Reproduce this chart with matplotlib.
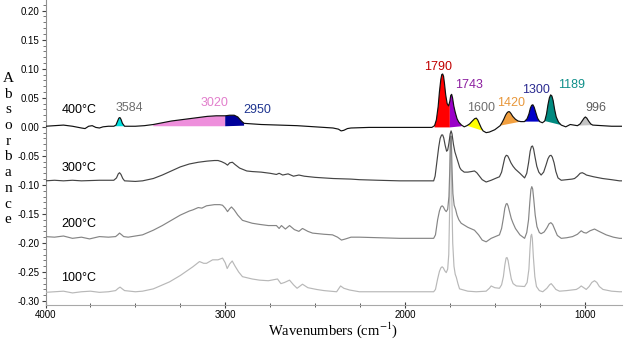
import numpy as np
import matplotlib
matplotlib.use('Agg')
import matplotlib.pyplot as plt
from matplotlib.ticker import MultipleLocator, FixedLocator

plt.rcParams['axes.unicode_minus'] = False
plt.rcParams['mathtext.fontset'] = 'stix'

# ---------------- data: (wavenumber, absorbance) ----------------
spec_400 = [
    (4000, 0.001), (3950, 0.002), (3900, 0.003), (3850, 0.001), (3800, -0.002), (3780, -0.003),
    (3760, 0.001), (3740, 0.002), (3720, -0.001), (3700, -0.002), (3680, 0.000), (3650, 0.001),
    (3620, 0.001), (3608, 0.003), (3600, 0.009), (3592, 0.015), (3586, 0.016), (3580, 0.013),
    (3572, 0.006), (3560, 0.001), (3500, 0.001), (3450, 0.002), (3400, 0.004), (3350, 0.007),
    (3300, 0.010), (3250, 0.012), (3200, 0.014), (3150, 0.016), (3100, 0.018), (3050, 0.019),
    (3000, 0.019), (2975, 0.020), (2950, 0.020), (2930, 0.017), (2910, 0.010), (2895, 0.006),
    (2850, 0.005), (2800, 0.004), (2700, 0.003), (2600, 0.002), (2500, 0.000), (2400, -0.002),
    (2370, -0.004), (2355, -0.007), (2340, -0.006), (2320, -0.003), (2300, -0.002), (2200, -0.001),
    (2100, -0.001), (2000, -0.001), (1900, -0.001), (1850, -0.001), (1835, 0.002), (1825, 0.012),
    (1815, 0.035), (1808, 0.060), (1800, 0.082), (1795, 0.090), (1790, 0.091), (1785, 0.087),
    (1780, 0.075), (1773, 0.055), (1765, 0.040), (1757, 0.036), (1750, 0.044), (1745, 0.054),
    (1740, 0.056), (1735, 0.050), (1728, 0.036), (1720, 0.025), (1710, 0.014), (1700, 0.008),
    (1685, 0.003), (1670, 0.000), (1655, 0.002), (1640, 0.005), (1625, 0.010), (1612, 0.014),
    (1603, 0.015), (1595, 0.012), (1585, 0.005), (1575, -0.002), (1565, -0.007), (1548, -0.010),
    (1530, -0.009), (1500, -0.005), (1470, 0.002), (1460, 0.007), (1450, 0.013), (1440, 0.020),
    (1432, 0.024), (1425, 0.026), (1418, 0.026), (1410, 0.023), (1400, 0.018), (1385, 0.013),
    (1370, 0.010), (1355, 0.009), (1335, 0.009), (1320, 0.014), (1310, 0.022), (1302, 0.032),
    (1295, 0.037), (1288, 0.038), (1281, 0.034), (1272, 0.025), (1262, 0.015), (1250, 0.009),
    (1235, 0.007), (1222, 0.010), (1212, 0.022), (1204, 0.038), (1196, 0.050), (1189, 0.055),
    (1182, 0.053), (1175, 0.045), (1167, 0.030), (1158, 0.017), (1145, 0.008), (1130, 0.003),
    (1105, 0.000), (1080, 0.004), (1060, 0.003), (1040, 0.002), (1025, 0.005), (1012, 0.011),
    (1003, 0.015), (996, 0.017), (988, 0.015), (978, 0.010), (966, 0.005), (955, 0.003),
    (900, 0.002), (850, 0.001), (792, 0.001)]

spec_300 = [
    (4000, -0.093), (3950, -0.092), (3900, -0.093), (3850, -0.092), (3800, -0.093), (3700, -0.092),
    (3620, -0.092), (3605, -0.088), (3595, -0.081), (3588, -0.079), (3580, -0.082), (3570, -0.089),
    (3560, -0.093), (3500, -0.094), (3460, -0.093), (3400, -0.089), (3350, -0.083), (3300, -0.076),
    (3250, -0.069), (3200, -0.064), (3150, -0.061), (3100, -0.059), (3060, -0.058), (3040, -0.058),
    (3020, -0.060), (3000, -0.063), (2987, -0.066), (2975, -0.062), (2960, -0.061), (2945, -0.065),
    (2920, -0.071), (2880, -0.076), (2850, -0.077), (2800, -0.078), (2750, -0.080), (2715, -0.082),
    (2700, -0.080), (2680, -0.083), (2650, -0.081), (2620, -0.085), (2590, -0.083), (2560, -0.085),
    (2500, -0.087), (2400, -0.089), (2300, -0.090), (2253, -0.091), (2150, -0.092), (2030, -0.093),
    (1900, -0.093), (1840, -0.093), (1832, -0.085), (1822, -0.060), (1812, -0.035), (1804, -0.020),
    (1796, -0.014), (1790, -0.014), (1784, -0.019), (1776, -0.032), (1768, -0.042), (1762, -0.040),
    (1755, -0.028), (1748, -0.012), (1743, -0.007), (1738, -0.012), (1730, -0.030), (1722, -0.043),
    (1714, -0.051), (1705, -0.060), (1695, -0.070), (1687, -0.074), (1670, -0.078), (1650, -0.078),
    (1630, -0.077), (1613, -0.076), (1600, -0.079), (1590, -0.083), (1570, -0.091), (1548, -0.095),
    (1520, -0.092), (1490, -0.088), (1474, -0.086), (1462, -0.078), (1452, -0.064), (1444, -0.053),
    (1436, -0.049), (1428, -0.050), (1420, -0.055), (1410, -0.062), (1398, -0.068), (1385, -0.073),
    (1360, -0.080), (1334, -0.088), (1322, -0.080), (1312, -0.062), (1303, -0.042), (1296, -0.034),
    (1290, -0.033), (1284, -0.038), (1276, -0.052), (1266, -0.068), (1255, -0.078), (1242, -0.083),
    (1228, -0.078), (1215, -0.066), (1204, -0.055), (1195, -0.050), (1187, -0.049), (1180, -0.052),
    (1170, -0.062), (1160, -0.077), (1148, -0.088), (1130, -0.092), (1100, -0.091), (1070, -0.090),
    (1056, -0.089), (1040, -0.085), (1025, -0.080), (1013, -0.079), (1000, -0.081), (990, -0.083),
    (950, -0.086), (900, -0.089), (850, -0.091), (806, -0.093), (792, -0.093)]

spec_200 = [
    (4000, -0.189), (3950, -0.190), (3900, -0.188), (3850, -0.192), (3800, -0.190), (3755, -0.193),
    (3700, -0.189), (3650, -0.190), (3610, -0.189), (3598, -0.186), (3588, -0.183), (3576, -0.186),
    (3565, -0.189), (3540, -0.190), (3500, -0.188), (3460, -0.186), (3400, -0.178), (3350, -0.170),
    (3300, -0.161), (3250, -0.152), (3200, -0.145), (3180, -0.143), (3150, -0.139), (3130, -0.140),
    (3104, -0.136), (3060, -0.134), (3030, -0.134), (3015, -0.135), (3000, -0.140), (2987, -0.146),
    (2975, -0.141), (2965, -0.138), (2950, -0.143), (2930, -0.152), (2904, -0.161), (2850, -0.166),
    (2809, -0.168), (2760, -0.170), (2715, -0.170), (2700, -0.175), (2687, -0.170), (2665, -0.176),
    (2642, -0.170), (2615, -0.177), (2590, -0.180), (2570, -0.175), (2540, -0.180), (2514, -0.183),
    (2450, -0.185), (2403, -0.186), (2375, -0.190), (2353, -0.195), (2330, -0.193), (2300, -0.190),
    (2253, -0.190), (2150, -0.191), (2030, -0.192), (1900, -0.192), (1840, -0.192), (1830, -0.186),
    (1818, -0.160), (1808, -0.145), (1800, -0.138), (1793, -0.136), (1786, -0.138), (1778, -0.143),
    (1770, -0.146), (1762, -0.142), (1755, -0.120), (1750, -0.070), (1746, -0.016), (1742, -0.016),
    (1738, -0.070), (1733, -0.115), (1726, -0.135), (1718, -0.142), (1710, -0.152), (1700, -0.160),
    (1687, -0.166), (1650, -0.173), (1613, -0.178), (1590, -0.186), (1570, -0.195), (1548, -0.198),
    (1520, -0.192), (1490, -0.188), (1474, -0.186), (1462, -0.175), (1452, -0.157), (1444, -0.140),
    (1437, -0.133), (1432, -0.132), (1426, -0.136), (1418, -0.146), (1408, -0.158), (1398, -0.166),
    (1385, -0.175), (1360, -0.186), (1334, -0.192), (1322, -0.182), (1312, -0.160), (1305, -0.130),
    (1299, -0.108), (1294, -0.103), (1289, -0.107), (1283, -0.125), (1275, -0.152), (1265, -0.172),
    (1252, -0.182), (1242, -0.184), (1225, -0.181), (1210, -0.174), (1198, -0.167), (1188, -0.165),
    (1178, -0.168), (1166, -0.177), (1152, -0.187), (1130, -0.192), (1100, -0.191), (1067, -0.189),
    (1040, -0.185), (1019, -0.179), (1005, -0.182), (991, -0.183), (970, -0.179), (945, -0.176),
    (920, -0.180), (880, -0.186), (840, -0.190), (806, -0.192), (792, -0.192)]

spec_100 = [
    (4000, -0.285), (3950, -0.284), (3900, -0.283), (3850, -0.286), (3800, -0.284), (3750, -0.283),
    (3700, -0.285), (3650, -0.284), (3610, -0.282), (3595, -0.278), (3585, -0.276), (3573, -0.279),
    (3560, -0.282), (3500, -0.284), (3460, -0.283), (3400, -0.279), (3310, -0.267), (3250, -0.256),
    (3180, -0.241), (3143, -0.232), (3120, -0.235), (3104, -0.235), (3070, -0.229), (3040, -0.229),
    (3015, -0.226), (3000, -0.234), (2989, -0.244), (2975, -0.236), (2961, -0.231), (2945, -0.240),
    (2925, -0.250), (2904, -0.258), (2850, -0.262), (2809, -0.264), (2760, -0.265), (2709, -0.262),
    (2690, -0.270), (2670, -0.268), (2642, -0.264), (2620, -0.272), (2600, -0.278), (2570, -0.271),
    (2540, -0.277), (2492, -0.280), (2450, -0.282), (2380, -0.284), (2358, -0.274), (2340, -0.278),
    (2308, -0.281), (2253, -0.284), (2150, -0.284), (2030, -0.284), (1900, -0.284), (1840, -0.284),
    (1830, -0.280), (1818, -0.262), (1808, -0.249), (1800, -0.243), (1793, -0.241), (1786, -0.243),
    (1778, -0.248), (1770, -0.251), (1762, -0.245), (1756, -0.220), (1751, -0.140), (1747, -0.022),
    (1743, -0.022), (1739, -0.120), (1734, -0.200), (1727, -0.240), (1720, -0.254), (1714, -0.259),
    (1705, -0.270), (1696, -0.279), (1650, -0.283), (1603, -0.284), (1548, -0.283), (1530, -0.278),
    (1520, -0.274), (1500, -0.277), (1474, -0.278), (1462, -0.272), (1452, -0.258), (1444, -0.238),
    (1437, -0.226), (1432, -0.225), (1426, -0.230), (1418, -0.245), (1408, -0.262), (1398, -0.270),
    (1380, -0.274), (1334, -0.275), (1320, -0.268), (1310, -0.245), (1304, -0.210), (1299, -0.188),
    (1295, -0.185), (1291, -0.192), (1285, -0.225), (1277, -0.258), (1268, -0.275), (1252, -0.282),
    (1233, -0.284), (1210, -0.278), (1195, -0.272), (1186, -0.270), (1175, -0.274), (1160, -0.280),
    (1140, -0.283), (1100, -0.282), (1046, -0.280), (1030, -0.277), (1019, -0.274), (1005, -0.277),
    (991, -0.280), (975, -0.275), (960, -0.268), (945, -0.265), (932, -0.268), (918, -0.275),
    (898, -0.280), (850, -0.283), (806, -0.284), (792, -0.284)]

series_labels = ['400°C', '300°C', '200°C', '100°C']

# assigned peaks on the 400 °C spectrum
peak_labels = ['3584', '3020', '2950', '1790', '1743', '1600', '1420', '1300', '1189', '996']
peak_start = [3620, 3400, 3000, 1835, 1750, 1655, 1470, 1335, 1222, 1040]
peak_end = [3560, 3000, 2895, 1750, 1685, 1565, 1355, 1250, 1130, 955]
peak_base_left = [0.001, 0.001, 0.001, -0.001, -0.001, 0.002, 0.002, 0.009, 0.010, 0.002]
peak_base_right = [0.001, 0.001, 0.002, -0.001, 0.001, -0.007, 0.009, 0.009, 0.003, 0.003]

# ---------------- styles / layout ----------------
line_colors = ['#101010', '#454545', '#858585', '#b8b8b8']
series_label_y = [0.029, -0.071, -0.168, -0.260]
fill_colors = ['#00e0e0', '#ee8fdc', '#00009a', '#ff0000', '#9a00c8', '#ffff00',
               '#f2a040', '#0000c8', '#008a80', '#c4c4c4']
label_colors = ['#6e6e6e', '#e27fcc', '#1f3590', '#c00000', '#8c1fa0', '#6e6e6e',
                '#e8973a', '#2a2a90', '#10908a', '#5e5e5e']
peak_label_x = [3533, 3060, 2820, 1813, 1646, 1574, 1407, 1273, 1073, 939]
peak_label_y = [0.032, 0.041, 0.029, 0.103, 0.072, 0.032, 0.041, 0.063, 0.072, 0.032]

W, H = 629, 345
fig = plt.figure(figsize=(W / 100, H / 100), dpi=100)
ax = fig.add_axes([45.5 / W, 40 / H, (622 - 45.5) / W, 305 / H])

specs = [spec_400, spec_300, spec_200, spec_100]

x4 = np.array([p[0] for p in spec_400])
y4 = np.array([p[1] for p in spec_400])
for i in range(len(peak_labels)):
    m = (x4 <= peak_start[i]) & (x4 >= peak_end[i])
    xs = np.r_[x4[m], peak_end[i], peak_start[i]]
    ys = np.r_[y4[m], peak_base_right[i], peak_base_left[i]]
    ax.fill(xs, ys, color=fill_colors[i], lw=0, zorder=2)

for i in range(3, -1, -1):
    xs = [p[0] for p in specs[i]]
    ys = [p[1] for p in specs[i]]
    ax.plot(xs, ys, color=line_colors[i], lw=0.85, zorder=3 + (3 - i))

for i in range(len(peak_labels)):
    ax.text(peak_label_x[i], peak_label_y[i], peak_labels[i], color=label_colors[i],
            ha='center', va='center', fontsize=9, family='Liberation Sans', zorder=10)

for i, lab in enumerate(series_labels):
    ax.text(3911, series_label_y[i], lab, color='#000000', ha='left', va='center',
            fontsize=9, family='Liberation Sans', zorder=10)

ax.set_xlim(4000, 792)
ax.set_ylim(-0.3068, 0.2184)

ax.xaxis.set_major_locator(FixedLocator([4000, 3000, 2000, 1000]))
ax.xaxis.set_minor_locator(MultipleLocator(250))
ax.yaxis.set_major_locator(MultipleLocator(0.05))
ax.yaxis.set_minor_locator(MultipleLocator(0.01))
ax.yaxis.set_major_formatter(plt.FuncFormatter(lambda v, p: '%.2f' % v))

for s in ['top', 'right']:
    ax.spines[s].set_visible(False)
ax.spines['left'].set_color('#909090')
ax.spines['bottom'].set_color('#a8a8a8')
ax.tick_params(axis='both', which='major', labelsize=7, colors='#404040', length=3,
               width=0.8, pad=1.5)
ax.tick_params(axis='x', which='both', direction='inout')
ax.tick_params(axis='x', which='major', length=4)
ax.tick_params(axis='x', which='minor', length=3, color='#404040')
ax.tick_params(axis='y', which='minor', length=2, color='#606060', width=0.6)
for t in ax.get_xticklabels() + ax.get_yticklabels():
    t.set_family('Liberation Sans')
    t.set_color('#000000')

fig.text(333 / W, 1 - 330 / H, 'Wavenumbers (cm$^{-1}$)', ha='center', va='center',
         fontsize=10.5, family='Liberation Serif')

letters = list('Absorbance')
for k, ch in enumerate(letters):
    ybase = 82 + k * 15.7
    fig.text(8 / W, 1 - ybase / H, ch, ha='center', va='baseline', fontsize=11,
             family='Liberation Serif')

fig.savefig('out.png', dpi=100, facecolor='white')
